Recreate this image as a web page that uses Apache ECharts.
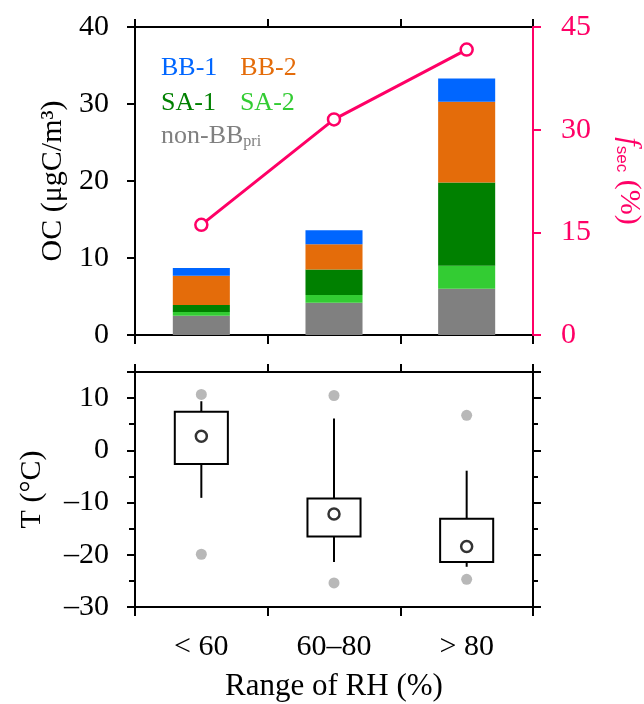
<!DOCTYPE html>
<html>
<head>
<meta charset="utf-8">
<script src="https://cdn.jsdelivr.net/npm/echarts@6/dist/echarts.min.js"></script>
<style>html,body{margin:0;padding:0;background:#fff}#c{width:644px;height:704px}</style>
</head>
<body>
<div id="c"></div>
<script>
// ---- data ----
var categories = ['< 60', '60\u201380', '> 80'];
var nonBBpri = [2.5, 4.2, 6.0];
var sa2 = [0.5, 1.0, 3.0];
var sa1 = [0.9, 3.3, 10.8];
var bb2 = [3.8, 3.3, 10.5];
var bb1 = [1.0, 1.8, 3.0];
var fsec = [16.1, 31.5, 41.7];
// temperature box stats per RH class: whisker low, Q1, Q3, whisker high
var tLow = [-9.1, -21.4, -22.3];
var tQ1 = [-2.6, -16.5, -21.4];
var tQ3 = [7.4, -9.2, -13.1];
var tHigh = [9.4, 6.1, -3.9];
var tMean = [2.7, -12.2, -18.4];
var tOutHigh = [10.7, 10.5, 6.7];
var tOutLow = [-19.9, -25.4, -24.7];
var ocTicks = {min: 0, max: 40, interval: 10};
var fsecTicks = {min: 0, max: 45, interval: 15};
var tTicks = {min: -30, max: 15, interval: 10};

var FONT = '"Liberation Serif", "Times New Roman", serif';
var PINK = '#FF0066';
var C_BB1 = '#0066FF', C_BB2 = '#E46C0A', C_SA1 = '#008000', C_SA2 = '#33CC33', C_GRAY = '#808080';
var FS = 30;

function xAx(grid, pos, showLabel, tickLen) {
  return {
    type: 'category', gridIndex: grid, position: pos, data: categories,
    boundaryGap: true,
    axisLine: {show: true, onZero: false, lineStyle: {color: '#000', width: 2}},
    axisTick: {show: true, alignWithLabel: false, length: tickLen, lineStyle: {color: '#000', width: 2}},
    axisLabel: {show: showLabel, color: '#000', fontFamily: FONT, fontSize: FS, margin: 25},
    splitLine: {show: false}
  };
}

var chart = echarts.init(document.getElementById('c'), null, {renderer: 'canvas'});
var boxData = categories.map(function (c, i) { return [i, tLow[i], tQ1[i], tQ3[i], tHigh[i]]; });

var xBottom2 = xAx(1, 'bottom', true, 9);
xBottom2.name = 'Range of RH (%)';
xBottom2.nameLocation = 'middle';
xBottom2.nameGap = 64;
xBottom2.nameTextStyle = {color: '#000', fontFamily: FONT, fontSize: 31};

var option = {
  backgroundColor: '#fff',
  animation: false,
  grid: [
    {left: 135, width: 398, top: 27, height: 308, outerBoundsMode: 'none', containLabel: false},
    {left: 135, width: 398, top: 372, height: 235, outerBoundsMode: 'none', containLabel: false}
  ],
  legend: [
    {left: 151, top: 50, itemWidth: 0, itemHeight: 0, itemGap: 18, selectedMode: false,
      textStyle: {fontFamily: FONT, fontSize: 26},
      data: [{name: 'BB-1', textStyle: {color: C_BB1}}, {name: 'BB-2', textStyle: {color: C_BB2}}]},
    {left: 151, top: 85, itemWidth: 0, itemHeight: 0, itemGap: 19, selectedMode: false,
      textStyle: {fontFamily: FONT, fontSize: 26},
      data: [{name: 'SA-1', textStyle: {color: C_SA1}}, {name: 'SA-2', textStyle: {color: C_SA2}}]},
    {left: 151, top: 118, itemWidth: 0, itemHeight: 0, selectedMode: false,
      textStyle: {fontFamily: FONT, fontSize: 26, color: C_GRAY,
        rich: {sub: {fontFamily: FONT, fontSize: 16, color: C_GRAY, verticalAlign: 'bottom', padding: [12, 0, 0, 0]}}},
      formatter: function (n) { return n === 'non-BB_pri' ? 'non-BB{sub|pri}' : n; },
      data: ['non-BB_pri']}
  ],
  xAxis: [
    xAx(0, 'bottom', false, 9),
    xAx(0, 'top', false, 8),
    xBottom2,
    xAx(1, 'top', false, 8)
  ],
  yAxis: [
    {type: 'value', gridIndex: 0, position: 'left', min: ocTicks.min, max: ocTicks.max, interval: ocTicks.interval,
      name: 'OC (\u03bcgC/m\u00b3)', nameLocation: 'middle', nameGap: 67, nameRotate: 90,
      nameTextStyle: {color: '#000', fontFamily: FONT, fontSize: FS},
      axisLine: {show: true, onZero: false, lineStyle: {color: '#000', width: 2}},
      axisTick: {show: true, length: 8, lineStyle: {color: '#000', width: 2}},
      axisLabel: {color: '#000', fontFamily: FONT, fontSize: FS, margin: 26},
      splitLine: {show: false}},
    {type: 'value', gridIndex: 0, position: 'right', min: fsecTicks.min, max: fsecTicks.max, interval: fsecTicks.interval,
      name: '{i|f}{s|sec} (%)', nameLocation: 'middle', nameGap: 80, nameRotate: -90,
      nameTextStyle: {color: PINK, fontFamily: FONT, fontSize: FS,
        rich: {i: {fontFamily: FONT, fontSize: FS, fontStyle: 'italic', color: PINK},
               s: {fontFamily: '"Liberation Sans", Arial, sans-serif', fontSize: 17, color: PINK, verticalAlign: 'bottom', padding: [14, 0, 0, 0]}}},
      axisLine: {show: true, onZero: false, lineStyle: {color: PINK, width: 2}},
      axisTick: {show: true, length: 8, lineStyle: {color: PINK, width: 2}},
      axisLabel: {color: PINK, fontFamily: FONT, fontSize: FS, margin: 28},
      splitLine: {show: false}, z: 5},
    {type: 'value', gridIndex: 1, position: 'left', min: tTicks.min, max: tTicks.max, interval: tTicks.interval,
      name: 'T (\u00b0C)', nameLocation: 'middle', nameGap: 88, nameRotate: 90,
      nameTextStyle: {color: '#000', fontFamily: FONT, fontSize: FS},
      axisLine: {show: true, onZero: false, lineStyle: {color: '#000', width: 2}},
      axisTick: {show: true, length: 8, lineStyle: {color: '#000', width: 2}},
      minorTick: {show: true, splitNumber: 2, length: 6, lineStyle: {color: '#000', width: 2}},
      axisLabel: {color: '#000', fontFamily: FONT, fontSize: FS, margin: 26, showMaxLabel: false,
        formatter: function (v) { return v < 0 ? '\u2013' + Math.abs(v) : String(v); }},
      splitLine: {show: false}, minorSplitLine: {show: false}},
    {type: 'value', gridIndex: 1, position: 'right', min: tTicks.min, max: tTicks.max, interval: tTicks.interval,
      axisLine: {show: true, onZero: false, lineStyle: {color: '#000', width: 2}},
      axisTick: {show: true, length: 8, lineStyle: {color: '#000', width: 2}},
      minorTick: {show: true, splitNumber: 2, length: 5, lineStyle: {color: '#000', width: 2}},
      axisLabel: {show: false},
      splitLine: {show: false}, minorSplitLine: {show: false}}
  ],
  series: [
    {name: 'non-BB_pri', type: 'bar', stack: 'oc', xAxisIndex: 0, yAxisIndex: 0, barWidth: '43%', data: nonBBpri, itemStyle: {color: C_GRAY}},
    {name: 'SA-2', type: 'bar', stack: 'oc', xAxisIndex: 0, yAxisIndex: 0, data: sa2, itemStyle: {color: C_SA2}},
    {name: 'SA-1', type: 'bar', stack: 'oc', xAxisIndex: 0, yAxisIndex: 0, data: sa1, itemStyle: {color: C_SA1}},
    {name: 'BB-2', type: 'bar', stack: 'oc', xAxisIndex: 0, yAxisIndex: 0, data: bb2, itemStyle: {color: C_BB2}},
    {name: 'BB-1', type: 'bar', stack: 'oc', xAxisIndex: 0, yAxisIndex: 0, data: bb1, itemStyle: {color: C_BB1}},
    {name: 'fsec', type: 'line', xAxisIndex: 0, yAxisIndex: 1, data: fsec, z: 5,
      symbol: 'circle', symbolSize: 12, lineStyle: {color: PINK, width: 3},
      itemStyle: {color: '#fff', borderColor: PINK, borderWidth: 2.5}},
    {name: 'Tbox', type: 'custom', xAxisIndex: 2, yAxisIndex: 2, data: boxData,
      encode: {x: 0, y: [1, 2, 3, 4]},
      renderItem: function (params, api) {
        var x = api.value(0);
        var lo = api.coord([x, api.value(1)]);
        var q1 = api.coord([x, api.value(2)]);
        var q3 = api.coord([x, api.value(3)]);
        var hi = api.coord([x, api.value(4)]);
        var w = api.size([1, 0])[0] * 0.4;
        var st = {stroke: '#000', lineWidth: 2, fill: null};
        return {type: 'group', children: [
          {type: 'line', shape: {x1: hi[0], y1: hi[1], x2: q3[0], y2: q3[1]}, style: st},
          {type: 'line', shape: {x1: q1[0], y1: q1[1], x2: lo[0], y2: lo[1]}, style: st},
          {type: 'rect', shape: {x: q3[0] - w / 2, y: q3[1], width: w, height: q1[1] - q3[1]},
            style: {stroke: '#000', lineWidth: 2, fill: '#fff'}}
        ]};
      }, z: 2},
    {name: 'outHigh', type: 'scatter', xAxisIndex: 2, yAxisIndex: 2, data: tOutHigh, symbolSize: 11,
      itemStyle: {color: '#A6A6A6'}, z: 3},
    {name: 'outLow', type: 'scatter', xAxisIndex: 2, yAxisIndex: 2, data: tOutLow, symbolSize: 11,
      itemStyle: {color: '#A6A6A6'}, z: 3},
    {name: 'mean', type: 'scatter', xAxisIndex: 2, yAxisIndex: 2, data: tMean, symbol: 'circle', symbolSize: 11,
      itemStyle: {color: '#fff', borderColor: '#000', borderWidth: 2.5}, z: 4}
  ]
};
chart.setOption(option);
</script>
</body>
</html>
